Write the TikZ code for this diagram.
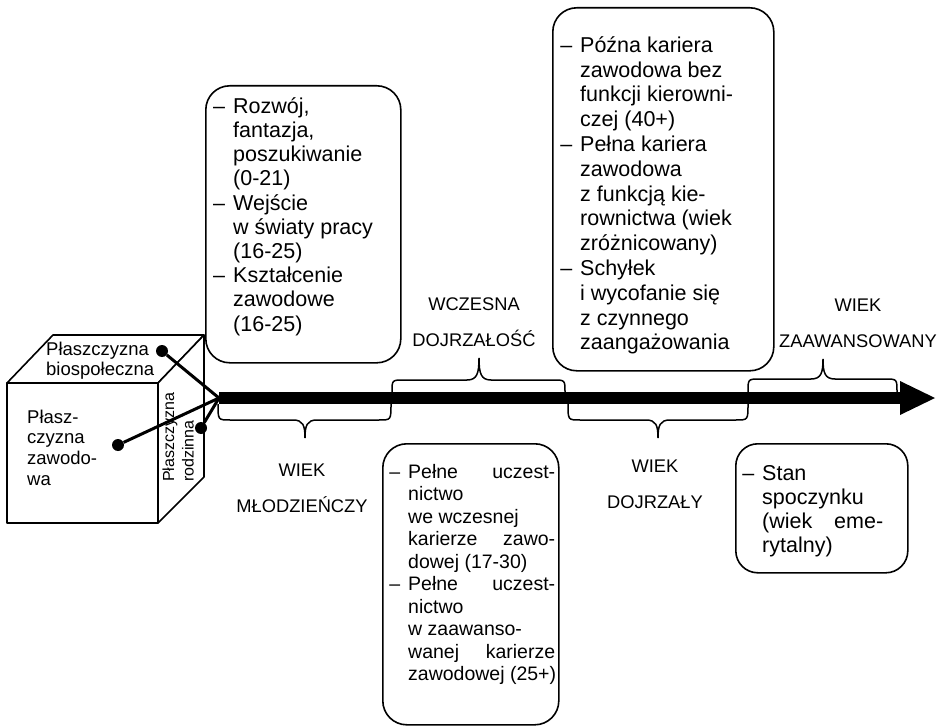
\documentclass[tikz,border=0pt]{standalone}
\usepackage{fontspec}
\setmainfont{Liberation Sans}
\newcommand\topstrut[1]{\rule{0pt}{#1}}
\newcommand\dashitem{\llap{–\hspace{8pt}}}
\newcommand\jline[2]{\makebox[#1][s]{#2}}
% curly brace: ends x1, x2, tip x, end y, shoulder y, tip y
\newcommand\brc[6]{%
  \draw[bracestyle] (#1,#4) .. controls (#1,#5) .. (#1+12,#5) -- (#3-12,#5)
    .. controls (#3-2,#5) and (#3,{#5+(#6-#5)*0.3}) .. (#3,#6)
    .. controls (#3,{#5+(#6-#5)*0.3}) and (#3+2,#5) .. (#3+12,#5)
    -- (#2-12,#5) .. controls (#2,#5) .. (#2,#4);}
\begin{document}
\begin{tikzpicture}[x=1pt,y=-1pt,
  face/.style={draw, line width=1.6pt, fill=white, line join=round},
  card/.style={draw, line width=1.6pt, rounded corners=24pt, fill=white, inner sep=0pt, anchor=north west},
  itemtext/.style={anchor=north west, inner sep=0pt, align=left, font=\fontsize{21.5}{24.4}\selectfont},
  lbl/.style={anchor=north, inner sep=0pt, align=center, font=\fontsize{18.3}{36}\selectfont},
  cubetext/.style={anchor=north west, inner sep=0pt, align=left, font=\fontsize{18.5}{20.5}\selectfont},
  dot/.style={circle, fill=black, inner sep=0pt, minimum size=12pt},
  spoke/.style={line width=3pt},
  bracestyle/.style={line width=1.5pt},
]
\useasboundingbox (0,0) rectangle (942,727);

% --- cube of the three planes
\path[face] (7,383) -- (158,383) -- (158,523) -- (7,523) -- cycle;
\path[face] (7,383) -- (53,335) -- (204,335) -- (158,383) -- cycle;
\path[face] (158,383) -- (204,335) -- (204,477) -- (158,523) -- cycle;
\node[cubetext] (bio) at (46,339) {\topstrut{16pt}Płaszczyzna\\biospołeczna};
\node[cubetext, font=\fontsize{18.5}{20.7}\selectfont] (zaw) at (27,407) {\topstrut{16pt}Płasz-\\czyzna\\zawodo-\\wa};
\node[cubetext, font=\fontsize{16}{19.5}\selectfont, rotate=90] (rodz) at (160,482) {\topstrut{14pt}Płaszczyzna\\rodzinna};

% --- braces along the time axis
\brc{218}{391}{305}{404}{420}{438}
\brc{392}{565}{479}{392}{380}{358}
\brc{568}{748}{658}{404}{420}{438}
\brc{748}{897}{823}{392}{379}{359}

% --- time axis with the spokes to the cube planes
\coordinate (hub) at (219,398);
\coordinate (axend) at (901,398);
\coordinate (tip) at (935,398);
\coordinate (headtop) at (900,381);
\coordinate (headbot) at (900,415);
\node[dot] (d1) at (162,351) {};
\node[dot] (d2) at (201,428) {};
\node[dot] (d3) at (118,445) {};
\draw[spoke] (hub) -- (d1);
\draw[spoke] (hub) -- (d2);
\draw[spoke] (hub) -- (d3);
\draw[line width=12pt] (hub) -- (axend);
\fill (headtop) -- (tip) -- (headbot) -- cycle;

% --- stage labels
\node[lbl] (ml) at (302,460.5) {\topstrut{16pt}WIEK\\MŁODZIEŃCZY};
\node[lbl] (wd) at (474,294) {\topstrut{16pt}WCZESNA\\DOJRZAŁOŚĆ};
\node[lbl] (dj) at (655,456) {\topstrut{16pt}WIEK\\DOJRZAŁY};
\node[lbl] (za) at (858,295) {\topstrut{16pt}WIEK\\ZAAWANSOWANY};

% --- career stage cards
\node[card, minimum width=195pt, minimum height=277pt] (box1) at (205,85) {};
\node[itemtext, font=\fontsize{21.5}{24.2}\selectfont] (t1) at (233,93) {\topstrut{20pt}\dashitem Rozwój,\\fantazja,\\poszukiwanie\\(0-21)\\
\dashitem Wejście\\w światy pracy\\(16-25)\\
\dashitem Kształcenie\\zawodowe\\(16-25)};

\node[card, minimum width=221pt, minimum height=363pt] (box2) at (552,7) {};
\node[itemtext, font=\fontsize{21.5}{24.8}\selectfont] (t2) at (580,32) {\topstrut{20pt}\dashitem Późna kariera\\zawodowa bez\\funkcji kierowni-\\czej (40+)\\
\dashitem Pełna kariera\\zawodowa\\z funkcją kie-\\rownictwa (wiek\\zróżnicowany)\\
\dashitem Schyłek\\i wycofanie się\\z czynnego\\zaangażowania};

\node[card, minimum width=176pt, minimum height=281pt] (box3) at (382,443) {};
\node[itemtext, font=\fontsize{19.5}{22.5}\selectfont] (t3) at (408,460) {\topstrut{18pt}\dashitem\jline{147pt}{Pełne uczest-}\\nictwo\\we wczesnej\\\jline{147pt}{karierze zawo-}\\dowej (17-30)\\
\dashitem\jline{147pt}{Pełne uczest-}\\nictwo\\w zaawanso-\\\jline{147pt}{wanej karierze}\\zawodowej (25+)};

\node[card, minimum width=172pt, minimum height=129pt, rounded corners=22pt] (box4) at (735,443) {};
\node[itemtext, font=\fontsize{21.5}{24}\selectfont] (t4) at (762,460) {\topstrut{20pt}\dashitem Stan\\spoczynku\\\jline{121pt}{(wiek eme-}\\rytalny)};
\end{tikzpicture}
\end{document}
